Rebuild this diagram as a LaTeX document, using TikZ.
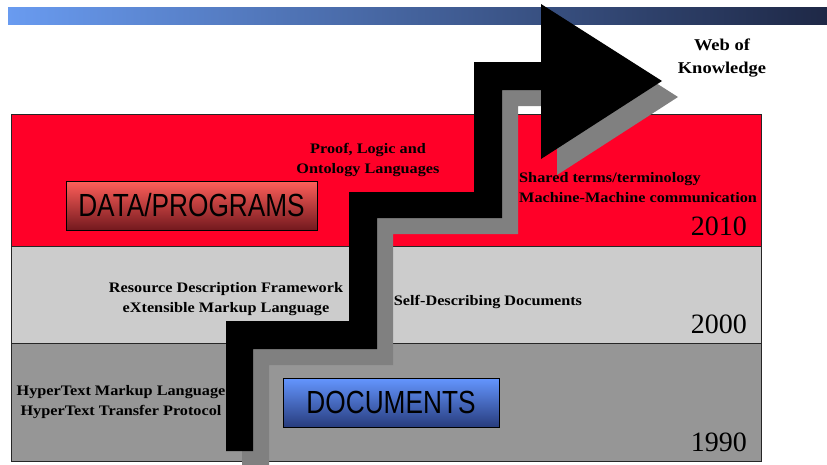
\documentclass[tikz,border=0pt]{standalone}
\usepackage{fontspec}
\setmainfont{Liberation Serif}
\newfontfamily\narrowfont[FakeStretch=0.82]{Liberation Sans}
\newfontfamily\labelfont[FakeStretch=1.12]{Liberation Serif}
\definecolor{redband}{RGB}{255,0,40}
\definecolor{lightband}{RGB}{204,204,204}
\definecolor{darkband}{RGB}{150,150,150}
\tikzset{
  layer/.style={draw=black!85, line width=0.8pt},
  tag/.style={font=\labelfont\bfseries\fontsize{14.5}{20}\selectfont, align=center, inner sep=0pt},
  year/.style={font=\fontsize{28}{30}\selectfont, anchor=east, inner sep=0pt},
  era/.style={draw=black, line width=0.8pt, inner sep=0pt, font=\narrowfont\fontsize{32}{34}\selectfont, minimum height=49pt}
}
\begin{document}
\begin{tikzpicture}[x=1pt,y=-1pt]
\useasboundingbox (0,0) rectangle (827,464);
% banner
\shade[left color={rgb,255:red,105;green,155;blue,240}, right color={rgb,255:red,30;green,40;blue,70}] (8,7) rectangle (827,24);
% bands with years
\foreach \ytop/\ybot/\fillc/\yr/\ymid in {114/246/redband/2010/226, 246/343/lightband/2000/324, 343/461/darkband/1990/442}
{
  \draw[layer, fill=\fillc] (11,\ytop) rectangle (761,\ybot);
  \node[year] (yr\yr) at (747,\ymid) {\yr};
}
\node[tag] (proof) at (368,160) {Proof, Logic and\\Ontology Languages};
\node[tag] (rdf) at (226,299) {Resource Description Framework\\eXtensible Markup Language};
\node[tag] (selfdesc) at (488,302) {Self-Describing Documents};
\node[tag] (html) at (121,402) {HyperText Markup Language\\HyperText Transfer Protocol};
\node[tag, font=\labelfont\bfseries\fontsize{16.5}{23}\selectfont] (wok) at (722,58.5) {Web of\\Knowledge};
% staircase arrow, shadow first
\foreach \d/\col in {16/gray, 0/black}
  \fill[\col, shift={(\d,\d)}] (226,451) -- (226,321) -- (349,321) -- (349,192) -- (474,192) -- (474,62) -- (541,62) -- (541,4) -- (662,81) -- (541,159) -- (541,90) -- (502,90) -- (502,218) -- (377,218) -- (377,349) -- (253,349) -- (253,451) -- cycle;
\node[tag, align=left, anchor=west] (shared) at (519,187.5) {Shared terms/terminology\\Machine-Machine communication};
% era boxes
\node[era, minimum width=251pt, top color={rgb,255:red,255;green,95;blue,90}, bottom color={rgb,255:red,115;green,25;blue,30}] (data) at (191.5,205.5) {DATA/PROGRAMS};
\node[era, minimum width=216pt, top color={rgb,255:red,100;green,150;blue,255}, bottom color={rgb,255:red,40;green,60;blue,125}] (docs) at (391,402.5) {DOCUMENTS};
\end{tikzpicture}
\end{document}
